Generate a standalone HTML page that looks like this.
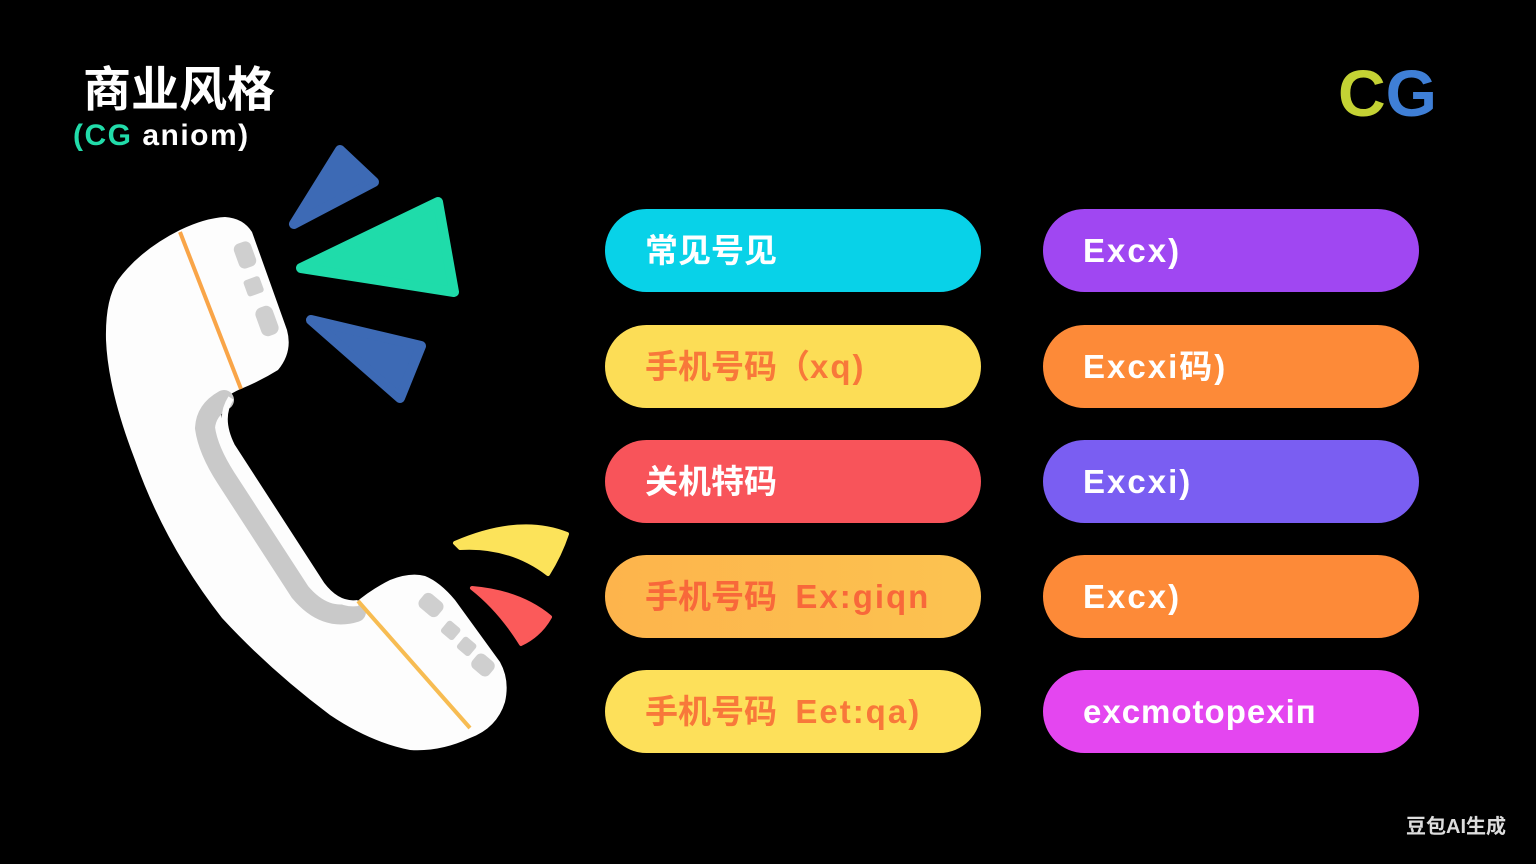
<!DOCTYPE html>
<html><head><meta charset="utf-8"><style>
html,body{margin:0;padding:0;background:#000;}
body{width:1536px;height:864px;position:relative;overflow:hidden;font-family:"Liberation Sans","Noto Sans CJK SC",sans-serif;}
.pill{position:absolute;height:83px;border-radius:42px;width:376px;box-sizing:border-box;padding-left:40px;line-height:83px;font-size:33px;font-weight:bold;color:#fff;white-space:nowrap;}
.l{letter-spacing:2px;}
.t{position:absolute;white-space:nowrap;font-weight:bold;}
</style></head><body>
<div class="t" style="left:83px;top:62px;font-size:48px;color:#fff;line-height:58px;">商业风格</div>
<div class="t" style="left:73px;top:118px;font-size:30px;line-height:36px;color:#fff;letter-spacing:1.5px;"><span style="color:#22dcaa">(CG</span> aniom)</div>
<div class="t" style="left:1338px;top:58px;font-size:66px;line-height:70px;"><span style="color:#c4d234">C</span><span style="color:#3f7fd6">G</span></div>
<div class="t" style="left:1406px;top:814px;font-size:20px;line-height:26px;color:#ddd;">豆包AI生成</div>

<svg width="1536" height="864" style="position:absolute;left:0;top:0">
<g stroke-linejoin="round" stroke-width="10">
<polygon points="294,224 340,150 374,182" fill="#3d6ab5" stroke="#3d6ab5"/>
<polygon points="301,268 438,202 454,292" fill="#1fdcaa" stroke="#1fdcaa"/>
<polygon points="311,320 421,346 400,398" fill="#3d6ab5" stroke="#3d6ab5"/>
</g>
<path d="M455,543 Q520,515 567,534 Q560,555 548,574 Q510,545 460,548 Z" fill="#fce35a" stroke="#fce35a" stroke-width="4" stroke-linejoin="round"/>
<path d="M472,588 Q520,592 550,617 Q540,635 521,644 Q500,610 472,588 Z" fill="#fb5a5a" stroke="#fb5a5a" stroke-width="4" stroke-linejoin="round"/>
<path d="M180,230 Q205,218 225,217 Q243,218 252,232 L287,330 Q293,352 278,370 Q262,380 243,388 Q228,394 222,402 Q218,418 232,446 L322,585 Q338,606 354,604 Q370,590 390,580 Q410,572 425,576 Q440,582 455,600 L500,662 Q510,680 505,702 Q497,728 470,738 Q440,752 410,750 Q370,742 330,715 Q270,670 222,618 Q165,545 135,460 Q108,390 106,340 Q105,300 118,280 Q140,250 180,230 Z" fill="#fdfdfd"/>
<path d="M224,400 Q206,410 205,428 Q208,450 226,478 L300,592 Q325,622 356,612" fill="none" stroke="#c9c9c9" stroke-width="20" stroke-linecap="round"/>
<path d="M231,398 Q218,418 232,446 L322,585 Q338,606 358,603" fill="none" stroke="#fdfdfd" stroke-width="6"/>
<line x1="180" y1="232" x2="241" y2="389" stroke="#f9a548" stroke-width="4"/>
<line x1="358" y1="601" x2="470" y2="728" stroke="#f7bc52" stroke-width="4"/>
<g fill="#cfcfcf">
<rect x="236" y="242" width="18" height="26" rx="6" transform="rotate(-20 245 255)"/>
<rect x="245" y="278" width="17" height="17" rx="3" transform="rotate(-20 253 286)"/>
<rect x="258" y="306" width="18" height="30" rx="7" transform="rotate(-20 267 321)"/>
<rect x="419" y="596" width="24" height="18" rx="6" transform="rotate(40 431 605)"/>
<rect x="443" y="623" width="16" height="15" rx="3" transform="rotate(40 451 630)"/>
<rect x="459" y="639" width="16" height="15" rx="3" transform="rotate(40 467 646)"/>
<rect x="472" y="656" width="22" height="18" rx="6" transform="rotate(40 483 665)"/>
</g>
</svg>

<div class="pill" style="left:605px;top:209px;background:#08d2e8;">常见号见</div>
<div class="pill" style="left:605px;top:325px;background:#fcdd56;color:#f8783a;">手机号码（<span class="l">xq)</span></div>
<div class="pill" style="left:605px;top:440px;background:#f8545a;">关机特码</div>
<div class="pill" style="left:605px;top:555px;background:linear-gradient(90deg,#fdb44c,#fcc350);color:#f8683a;">手机号码&nbsp;&nbsp;<span class="l">Ex:giqn</span></div>
<div class="pill" style="left:605px;top:670px;background:#fde05a;color:#f8783a;">手机号码&nbsp;&nbsp;<span class="l">Eet:qa)</span></div>

<div class="pill l" style="left:1043px;top:209px;background:#a047f2;">Excx)</div>
<div class="pill l" style="left:1043px;top:325px;background:#fd8a38;">Excxi码)</div>
<div class="pill l" style="left:1043px;top:440px;background:#7a5ef2;">Excxi)</div>
<div class="pill l" style="left:1043px;top:555px;background:#fd8a38;">Excx)</div>
<div class="pill" style="left:1043px;top:670px;background:#e446f0;letter-spacing:1px;">excmotopexiп</div>
</body></html>
